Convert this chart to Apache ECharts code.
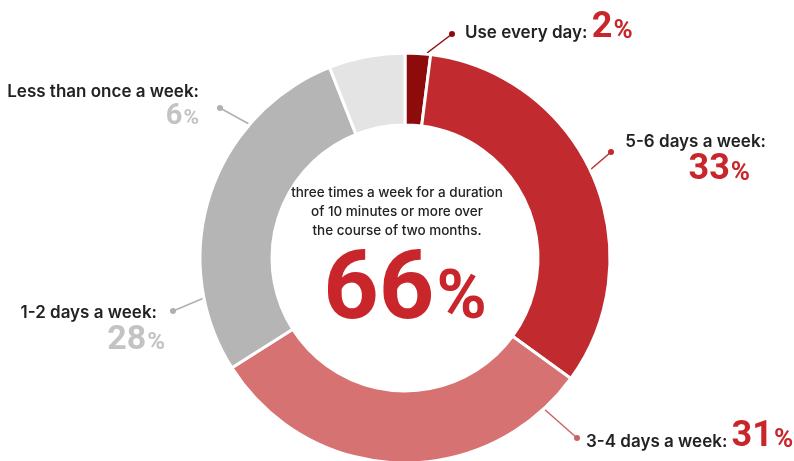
<!DOCTYPE html>
<html><head><meta charset="utf-8">
<script src="https://cdn.jsdelivr.net/npm/echarts@6/dist/echarts.min.js"></script>
<style>html,body{margin:0;padding:0;background:#fff}#c{width:794px;height:461px}</style>
</head><body><div id="c"></div>
<script>
// ---- data ----
const categories = ['Use every day', '5-6 days a week', '3-4 days a week', '1-2 days a week', 'Less than once a week'];
const values = [2, 33, 31, 28, 6];
const centerLines = ['three times a week for a duration', 'of 10 minutes or more over', 'the course of two months.'];
const centerValue = 66;

// ---- styles / layout ----
const sliceColors = ['#8e0b0c', '#c12a2e', '#d77272', '#b5b5b5', '#e4e4e4'];
const pctColors = ['#c8262b', '#c8262b', '#c8262b', '#c3c3c3', '#c3c3c3'];
const lineColors = ['#8e0b0c', '#c12a2e', '#cc6363', '#b0b0b0', '#b0b0b0'];
const pctSizes = [36, 36, 36, 34, 29];
const FONT = 'Inter';
// label placement (annotation layout, not data)
const labelSpec = [
  {x: 465, y: 27, align: 'left', va: 'middle', line: [[427, 53], [452, 34]], twoLine: false},
  {x: 766, y: 128, align: 'right', va: 'top', line: [[590, 170], [611, 152]], twoLine: true, pctPad: 16},
  {x: 586, y: 436, align: 'left', va: 'middle', line: [[543, 408], [577, 438]], twoLine: false},
  {x: 165, y: 299, align: 'right', va: 'top', line: [[204, 298], [173, 311]], twoLine: true, namePad: 8},
  {x: 199, y: 78, align: 'right', va: 'top', line: [[249, 124], [220, 108]], twoLine: true}
];

const data = categories.map((name, i) => {
  const s = labelSpec[i];
  const rich = {
    name: {fontFamily: FONT, fontSize: 17, fontWeight: 600, color: '#222', lineHeight: 22,
           verticalAlign: 'bottom', padding: s.twoLine ? [0, s.namePad || 0, 0, 0] : [0, 0, 5, 0]},
    pct: {fontFamily: 'Roboto', fontSize: pctSizes[i], fontWeight: 'bold', color: pctColors[i],
          lineHeight: pctSizes[i] + 2, verticalAlign: 'bottom', align: s.twoLine ? 'right' : 'left'},
    pc: {fontFamily: 'Roboto', fontSize: Math.round(pctSizes[i] * 0.72), fontWeight: 'bold', color: pctColors[i],
         lineHeight: pctSizes[i] + 2, verticalAlign: 'bottom', align: s.twoLine ? 'right' : 'left',
         padding: [0, s.pctPad || 0, 2, 1]}
  };
  const fmt = s.twoLine
    ? '{name|' + name + ':}\n{pct|' + values[i] + '}{pc|%}'
    : '{name|' + name + ': }{pct|' + values[i] + '}{pc|%}';
  return {
    name, value: values[i],
    itemStyle: {color: sliceColors[i]},
    label: {formatter: fmt, rich},
    labelLine: {lineStyle: {color: lineColors[i], width: 1.5}}
  };
});

const chart = echarts.init(document.getElementById('c'), null, {renderer: 'canvas'});
const graphics = [];
centerLines.forEach((t, i) => graphics.push({
  type: 'text', left: 'center', top: 186 + i * 19, z: 10,
  style: {text: t, font: '500 13.5px ' + FONT, fill: '#222', textAlign: 'center'}
}));
graphics.push({
  type: 'text', x: 405, y: 292, z: 10,
  style: {
    text: '{a|' + centerValue + '}{b|%}', textAlign: 'center', textVerticalAlign: 'middle',
    rich: {
      a: {fontFamily: 'Roboto', fontSize: 97, fontWeight: 'bold', fill: '#c8262b', lineHeight: 100, verticalAlign: 'bottom'},
      b: {fontFamily: 'Roboto', fontSize: 68, fontWeight: 'bold', fill: '#c8262b', lineHeight: 100, verticalAlign: 'bottom', padding: [0, 0, 7, 2]}
    }
  }
});
labelSpec.forEach((s, i) => graphics.push({
  type: 'circle', shape: {cx: s.line[1][0], cy: s.line[1][1], r: 3}, z: 10,
  style: {fill: lineColors[i]}
}));

chart.setOption({
  animation: false,
  backgroundColor: '#fff',
  graphic: graphics,
  series: [{
    type: 'pie',
    center: [405, 258],
    radius: [133, 205],
    startAngle: 90,
    clockwise: true,
    avoidLabelOverlap: false,
    itemStyle: {borderColor: '#fff', borderWidth: 3},
    label: {show: true, position: 'outside'},
    labelLine: {show: true, length: 20, length2: 0},
    labelLayout: function (p) {
      const s = labelSpec[p.dataIndex];
      return {
        x: s.x, y: s.y, align: s.align, verticalAlign: s.va,
        labelLinePoints: [s.line[0], s.line[1], s.line[1]]
      };
    },
    data
  }]
});
</script></body></html>
